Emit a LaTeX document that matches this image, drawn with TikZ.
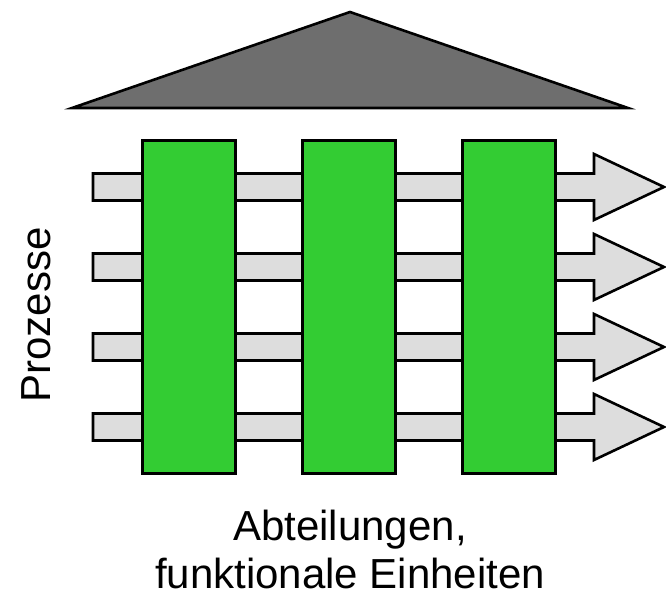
\documentclass[tikz,border=0pt]{standalone}
\usepackage{fontspec}
\setmainfont{Liberation Sans}
\definecolor{abtgruen}{RGB}{51,204,51}
\definecolor{prozgrau}{RGB}{221,221,221}
\definecolor{dachgrau}{RGB}{110,110,110}
\begin{document}
\begin{tikzpicture}[x=0.5pt,y=-0.5pt,
    linie/.style={draw=black,line width=1.3pt,line join=miter},
    abteilung/.style={linie,fill=abtgruen,minimum width=46.7pt,minimum height=166.7pt,inner sep=0pt},
    prozess/.style={linie,fill=prozgrau},
    beschriftung/.style={font=\fontsize{21}{23}\selectfont}]
    \useasboundingbox (0,0) rectangle (666,598);

    % Dach (Unternehmensleitung)
    \draw[linie,fill=dachgrau] (72,108) -- (350,12) -- (628,108) -- cycle;

    % Prozesse als Pfeile
    \foreach \y in {187,267,347,427} {
        \draw[prozess] (93,\y-13.5) -- (594,\y-13.5) -- (594,\y-33)
            -- (664,\y) -- (594,\y+33) -- (594,\y+13.5) -- (93,\y+13.5) -- cycle;
    }

    % Abteilungen als Saeulen
    \foreach \x/\n in {189/a,349/b,509/c} {
        \node[abteilung] (abt\n) at (\x,307) {};
    }

    % Beschriftung
    \node[beschriftung,rotate=90,anchor=base] (prozesse) at (50,315) {Prozesse};
    \node[beschriftung,align=center,anchor=base] (einheiten) at (350,589) {Abteilungen,\\[1pt]funktionale Einheiten};
\end{tikzpicture}
\end{document}
